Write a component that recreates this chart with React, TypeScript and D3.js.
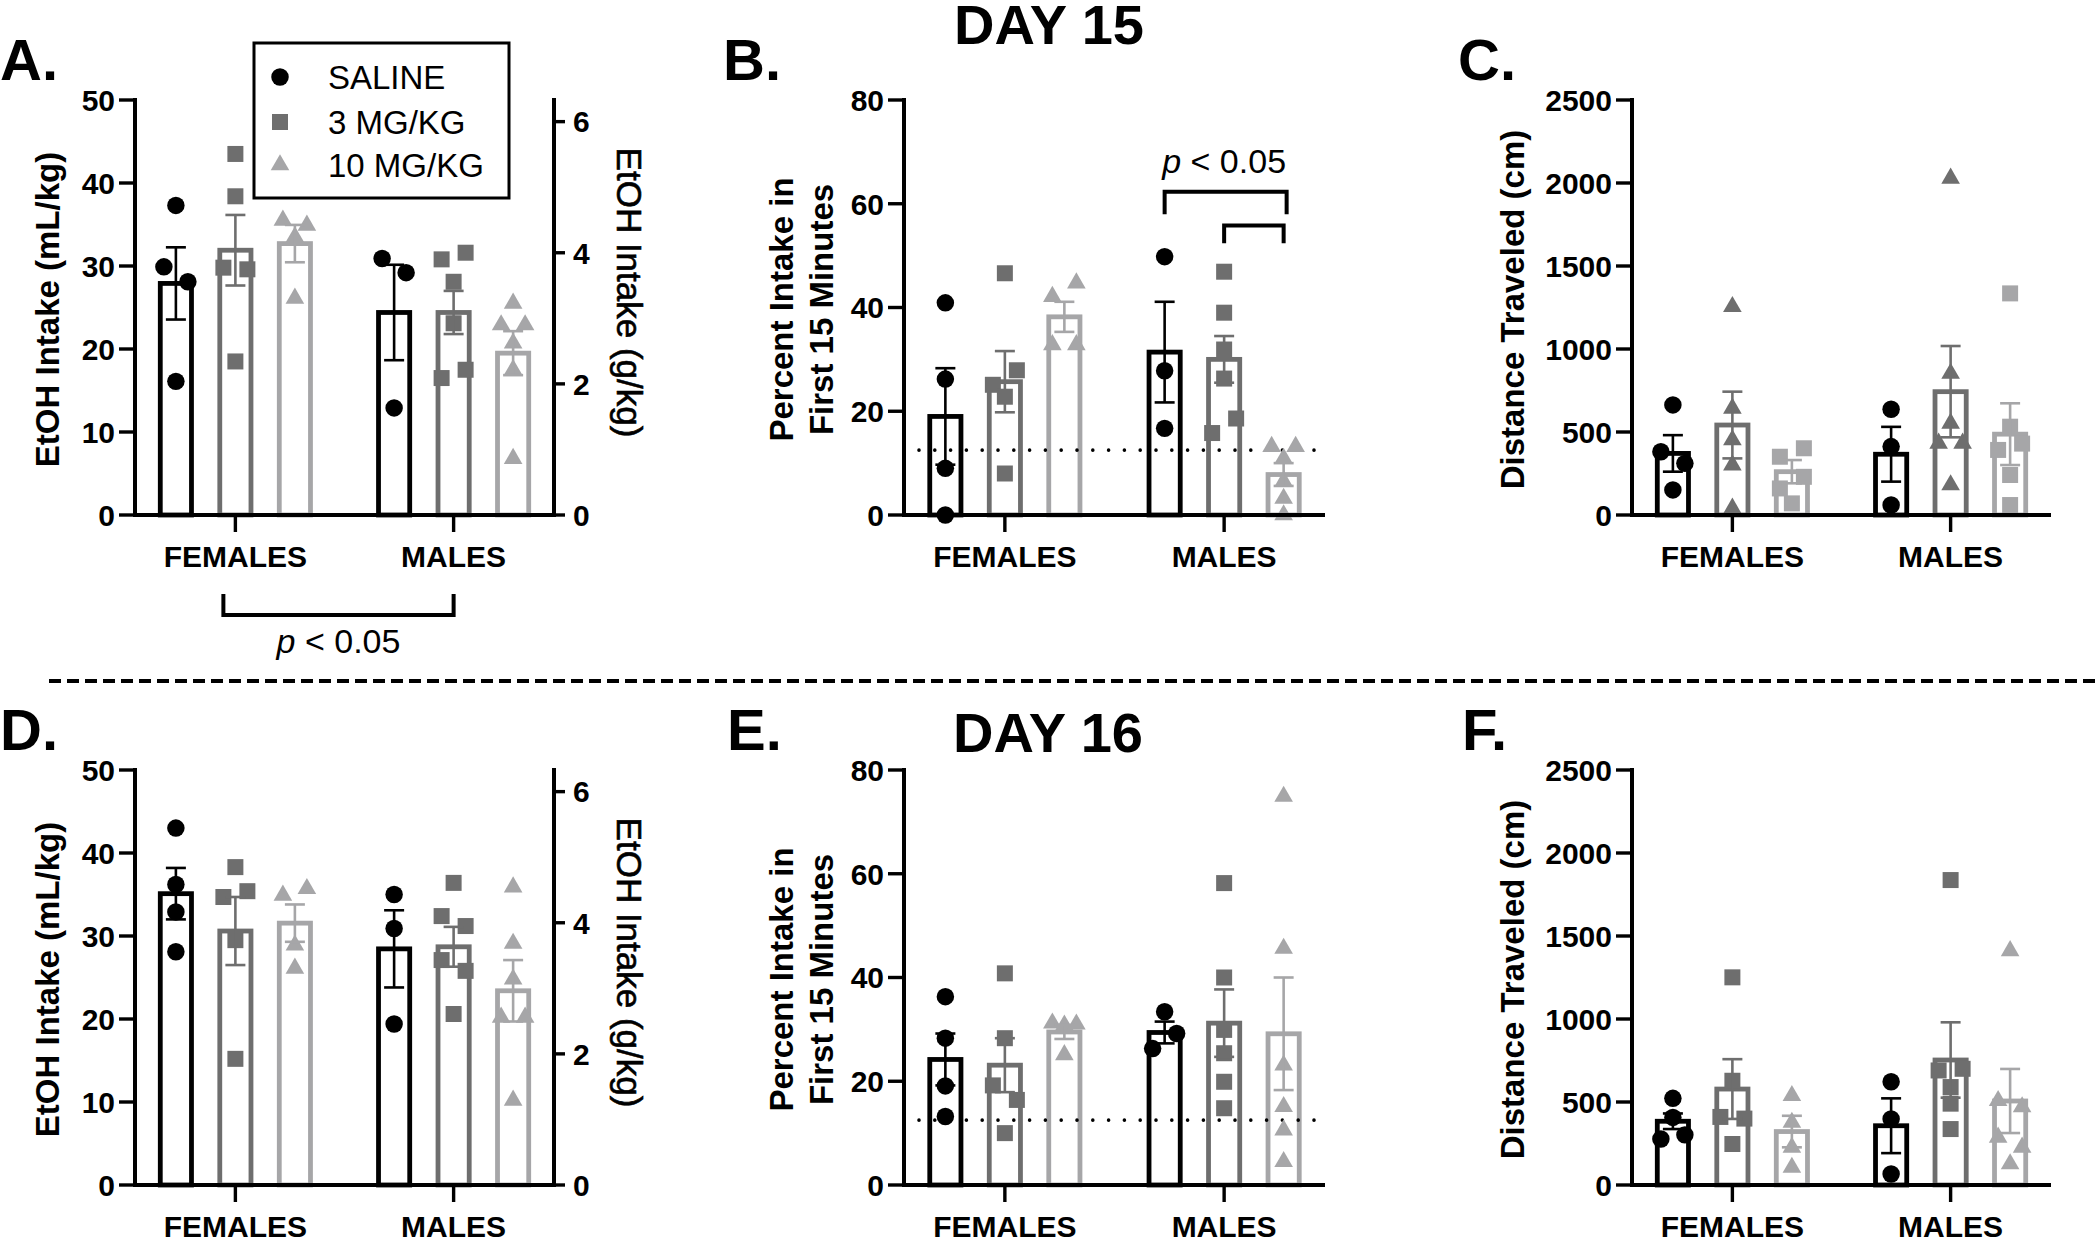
import React from 'react';
import * as d3 from 'd3';

// ---------- categories ----------
const SEXES = ['FEMALES', 'MALES'];
const TREATMENTS = ['SALINE', '3 MG/KG', '10 MG/KG'];
const TREATMENT_COLORS = ['#000000', '#6e6e6e', '#a6a6a8'];

// ---------- Panel A : Day 15 EtOH intake (mL/kg) ----------
const A_MEANS = [[27.9, 31.9, 32.7], [24.4, 24.4, 19.5]];
const A_SEMS = [[4.35, 4.25, 2.25], [5.75, 2.6, 2.65]];
const A_POINTS = [
  [[37.3, 29.9, 28.1, 16.1], [43.5, 38.4, 29.8, 29.6, 18.5], [35.5, 34.9, 33.5, 26.1]],
  [[30.9, 29.2, 12.9], [30.8, 31.6, 28.1, 23.1, 16.5, 17.5], [25.5, 22.9, 22.9, 20.7, 17.5, 6.8]],
];

// ---------- Panel B : Day 15 percent intake in first 15 min ----------
const B_MEANS = [[19.0, 25.7, 38.2], [31.4, 30.0, 7.8]];
const B_SEMS = [[9.3, 5.9, 2.9], [9.7, 4.5, 2.2]];
const B_POINTS = [
  [[40.9, 26.2, 9.0, 0], [46.6, 25.1, 27.9, 22.8, 8.0], [42.1, 44.7, 32.8, 32.8]],
  [[49.8, 27.8, 16.7], [46.9, 39.0, 31.9, 26.3, 15.8, 18.6], [13.2, 10.9, 13.2, 6.5, 3.2, 0]],
];

// ---------- Panel C : Day 15 distance traveled (cm) ----------
const C_MEANS = [[371, 542, 261], [366, 743, 487]];
const C_SEMS = [[110, 201, 70], [165, 275, 186]];
const C_POINTS = [
  [[663, 381, 311, 151], [1255, 643, 452, 301, 40], [351, 402, 160, 230, 70]],
  [[637, 412, 60], [2028, 853, 552, 432, 432, 181], [1335, 532, 392, 430, 241, 60]],
];

// ---------- Panel D : Day 16 EtOH intake (mL/kg) ----------
const D_MEANS = [[35.1, 30.6, 31.55], [28.45, 28.7, 23.4]];
const D_SEMS = [[3.1, 4.1, 2.25], [4.65, 2.4, 3.7]];
const D_POINTS = [
  [[43.0, 36.2, 32.9, 28.1], [38.3, 34.7, 35.4, 29.5, 15.2], [34.9, 35.7, 28.9, 26.1]],
  [[35.0, 30.9, 19.4], [36.4, 32.4, 31.2, 27.1, 25.8, 20.6], [35.9, 29.1, 24.8, 20.2, 20.2, 10.2]],
];

// ---------- Panel E : Day 16 percent intake in first 15 min ----------
const E_MEANS = [[24.2, 23.1, 29.5], [29.4, 31.2, 29.15]];
const E_SEMS = [[5.0, 5.2, 1.35], [2.1, 6.5, 10.85]];
const E_POINTS = [
  [[36.3, 28.3, 19.1, 13.2], [40.8, 28.3, 19.2, 16.4, 10.0], [31.2, 30.8, 31.0, 25.1]],
  [[33.4, 26.3, 29.2], [58.2, 40.0, 29.9, 25.4, 19.9, 14.8], [74.9, 45.6, 23.1, 15.1, 10.6, 4.5]],
];

// ---------- Panel F : Day 16 distance traveled (cm) ----------
const F_MEANS = [[384, 578, 322], [357, 753, 506]];
const F_SEMS = [[47, 180, 95], [165, 227, 193]];
const F_POINTS = [
  [[522, 407, 277, 302], [1251, 628, 410, 400, 247], [538, 377, 226, 106]],
  [[622, 398, 66], [1837, 690, 700, 590, 490, 337], [1411, 508, 470, 287, 227, 127]],
];

// ---------- axis ticks ----------
const INTAKE_TICKS = [0, 10, 20, 30, 40, 50];
const GKG_TICKS = [0, 2, 4, 6];
const GKG_MAX = 6.33; // g/kg equivalent of 50 mL/kg
const PERCENT_TICKS = [0, 20, 40, 60, 80];
const DIST_TICKS = [0, 500, 1000, 1500, 2000, 2500];
const CHANCE_LINE = 12.5;

const FONT = "'Liberation Sans', Arial, Helvetica, sans-serif";

type Shape = 'circle' | 'square' | 'triangle';
const SYMBOLS: Record<Shape, string> = {
  circle: d3.symbol(d3.symbolCircle, 240)() as string,
  square: d3.symbol(d3.symbolSquare, 256)() as string,
  triangle: d3.symbol(d3.symbolTriangle, 150)() as string,
};

function swarm(vals: number[], y: (v: number) => number, thr = 15.5, width = 24): number[] {
  const idx = vals.map((_, i) => i).sort((a, b) => vals[b] - vals[a] || a - b);
  const offs = new Array(vals.length).fill(0);
  let cluster: number[] = [];
  let anchorY = 0;
  const flush = () => {
    const c = [...cluster].sort((a, b) => a - b);
    const k = c.length;
    c.forEach((id, j) => {
      offs[id] = k === 1 ? 0 : -width / 2 + (width * j) / (k - 1);
    });
  };
  idx.forEach((i) => {
    const yi = y(vals[i]);
    if (cluster.length && Math.abs(yi - anchorY) < thr) cluster.push(i);
    else {
      if (cluster.length) flush();
      cluster = [i];
      anchorY = yi;
    }
  });
  if (cluster.length) flush();
  return offs;
}

interface PanelCfg {
  letter: string;
  letterX: number;
  means: number[][];
  sems: number[][];
  points: number[][][];
  ticks: number[];
  shapes: Shape[];
  x0: number;
  x1: number;
  yTop: number;
  yBot: number;
  titles: string[];
  titleX: number[];
  rightAxis?: boolean;
  chance?: boolean;
  sexBracket?: boolean;
  dosePBrackets?: boolean;
}

const PANELS: PanelCfg[] = [
  { letter: 'A.', letterX: 0, means: A_MEANS, sems: A_SEMS, points: A_POINTS, ticks: INTAKE_TICKS,
    shapes: ['circle', 'square', 'triangle'], x0: 135, x1: 554, yTop: 100, yBot: 515,
    titles: ['EtOH Intake (mL/kg)'], titleX: [59], rightAxis: true, sexBracket: true },
  { letter: 'B.', letterX: 723, means: B_MEANS, sems: B_SEMS, points: B_POINTS, ticks: PERCENT_TICKS,
    shapes: ['circle', 'square', 'triangle'], x0: 904, x1: 1325, yTop: 100, yBot: 515,
    titles: ['Percent Intake in', 'First 15 Minutes'], titleX: [793, 833], chance: true, dosePBrackets: true },
  { letter: 'C.', letterX: 1458, means: C_MEANS, sems: C_SEMS, points: C_POINTS, ticks: DIST_TICKS,
    shapes: ['circle', 'triangle', 'square'], x0: 1632, x1: 2051, yTop: 100, yBot: 515,
    titles: ['Distance Traveled (cm)'], titleX: [1524] },
  { letter: 'D.', letterX: 0, means: D_MEANS, sems: D_SEMS, points: D_POINTS, ticks: INTAKE_TICKS,
    shapes: ['circle', 'square', 'triangle'], x0: 135, x1: 554, yTop: 770, yBot: 1185,
    titles: ['EtOH Intake (mL/kg)'], titleX: [59], rightAxis: true },
  { letter: 'E.', letterX: 727, means: E_MEANS, sems: E_SEMS, points: E_POINTS, ticks: PERCENT_TICKS,
    shapes: ['circle', 'square', 'triangle'], x0: 904, x1: 1325, yTop: 770, yBot: 1185,
    titles: ['Percent Intake in', 'First 15 Minutes'], titleX: [793, 833], chance: true },
  { letter: 'F.', letterX: 1462, means: F_MEANS, sems: F_SEMS, points: F_POINTS, ticks: DIST_TICKS,
    shapes: ['circle', 'square', 'triangle'], x0: 1632, x1: 2051, yTop: 770, yBot: 1185,
    titles: ['Distance Traveled (cm)'], titleX: [1524] },
];

const BAR_SW = 4.8;
const AXIS_SW = 4;

function PValue({ x, y }: { x: number; y: number }) {
  return (
    <text x={x} y={y} textAnchor="middle" fontFamily={FONT} fontSize={34} fill="#000">
      <tspan fontStyle="italic">p</tspan>
      <tspan> &lt; 0.05</tspan>
    </text>
  );
}

function Panel({ cfg }: { cfg: PanelCfg }) {
  const yMax = cfg.ticks[cfg.ticks.length - 1];
  const y = d3.scaleLinear().domain([0, yMax]).range([cfg.yBot, cfg.yTop]);
  const xg = d3.scalePoint<string>().domain(SEXES).range([cfg.x0, cfg.x1]).padding(0.46);
  const xt = d3.scaleBand<string>().domain(TREATMENTS).range([-89.25, 89.25]).paddingInner(0.395).paddingOuter(0.1975);
  const bw = xt.bandwidth();
  const cx = (s: number, t: number) => (xg(SEXES[s]) as number) + (xt(TREATMENTS[t]) as number) + bw / 2;
  const midY = (cfg.yTop + cfg.yBot) / 2;

  const bars: JSX.Element[] = [];
  const dots: JSX.Element[] = [];
  const errs: JSX.Element[] = [];
  SEXES.forEach((_, s) => {
    TREATMENTS.forEach((__, t) => {
      const c = cx(s, t);
      const m = cfg.means[s][t];
      const e = cfg.sems[s][t];
      const col = TREATMENT_COLORS[t];
      bars.push(
        <rect key={`b${s}${t}`} x={c - bw / 2 + BAR_SW / 2} width={bw - BAR_SW} y={y(m)} height={y(0) - y(m)}
          fill="#fff" stroke={col} strokeWidth={BAR_SW} />
      );
      const vals = cfg.points[s][t];
      const offs = swarm(vals, y);
      vals.forEach((v, i) => {
        dots.push(
          <path key={`p${s}${t}${i}`} d={SYMBOLS[cfg.shapes[t]]} transform={`translate(${c + offs[i]},${y(v)})`} fill={col} />
        );
      });
      const yHi = y(m + e);
      const yLo = y(Math.max(0, m - e));
      errs.push(
        <g key={`e${s}${t}`} stroke={col} strokeWidth={2.6} fill="none">
          <line x1={c} x2={c} y1={yHi} y2={yLo} />
          <line x1={c - 10} x2={c + 10} y1={yHi} y2={yHi} />
          <line x1={c - 10} x2={c + 10} y1={yLo} y2={yLo} />
        </g>
      );
    });
  });

  const yR = d3.scaleLinear().domain([0, GKG_MAX]).range([cfg.yBot, cfg.yTop]);

  return (
    <g>
      <text x={cfg.letterX} y={cfg.yTop - 20} fontFamily={FONT} fontWeight="bold" fontSize={58} fill="#000">{cfg.letter}</text>
      {cfg.titles.map((tt, i) => (
        <text key={tt} transform={`translate(${cfg.titleX[i]},${midY + 2}) rotate(-90)`} textAnchor="middle"
          fontFamily={FONT} fontWeight="bold" fontSize={33} fill="#000">{tt}</text>
      ))}
      {bars}
      {cfg.chance && (
        <line x1={cfg.x0 + 15} x2={cfg.x1} y1={y(CHANCE_LINE)} y2={y(CHANCE_LINE)} stroke="#000" strokeWidth={3.6}
          strokeLinecap="round" strokeDasharray="0 15.8" />
      )}
      {dots}
      {errs}
      <line x1={cfg.x0} x2={cfg.x0} y1={cfg.yTop - 2} y2={cfg.yBot + 2} stroke="#000" strokeWidth={AXIS_SW} />
      {cfg.ticks.map((tk) => (
        <g key={`t${tk}`}>
          <line x1={cfg.x0 - 16} x2={cfg.x0} y1={y(tk)} y2={y(tk)} stroke="#000" strokeWidth={3.4} />
          <text x={cfg.x0 - 20} y={y(tk)} dy="0.36em" textAnchor="end" fontFamily={FONT} fontWeight="bold" fontSize={30} fill="#000">{tk}</text>
        </g>
      ))}
      <line x1={cfg.x0 - 2} x2={cfg.x1 + (cfg.rightAxis ? 2 : 0)} y1={cfg.yBot} y2={cfg.yBot} stroke="#000" strokeWidth={AXIS_SW} />
      {SEXES.map((sx) => (
        <g key={sx}>
          <line x1={xg(sx) as number} x2={xg(sx) as number} y1={cfg.yBot} y2={cfg.yBot + 17} stroke="#000" strokeWidth={3.4} />
          <text x={xg(sx) as number} y={cfg.yBot + 52} textAnchor="middle" fontFamily={FONT} fontWeight="bold" fontSize={30} fill="#000">{sx}</text>
        </g>
      ))}
      {cfg.rightAxis && (
        <g>
          <line x1={cfg.x1} x2={cfg.x1} y1={cfg.yTop - 2} y2={cfg.yBot + 2} stroke="#000" strokeWidth={AXIS_SW} />
          {GKG_TICKS.map((tk) => (
            <g key={`r${tk}`}>
              <line x1={cfg.x1} x2={cfg.x1 + 11} y1={yR(tk)} y2={yR(tk)} stroke="#000" strokeWidth={3.4} />
              <text x={cfg.x1 + 19} y={yR(tk)} dy="0.36em" textAnchor="start" fontFamily={FONT} fontWeight="bold" fontSize={30} fill="#000">{tk}</text>
            </g>
          ))}
          <text transform={`translate(${cfg.x1 + 63},${midY - 15}) rotate(90)`} textAnchor="middle" fontFamily={FONT}
            fontSize={35} fill="#000" stroke="#000" strokeWidth={0.6}>EtOH Intake (g/kg)</text>
        </g>
      )}
      {cfg.sexBracket && (
        <g>
          <path d={`M${(xg('FEMALES') as number) - 12},${cfg.yBot + 79} V${cfg.yBot + 100} H${xg('MALES') as number} V${cfg.yBot + 79}`}
            fill="none" stroke="#000" strokeWidth={4} />
          <PValue x={((xg('FEMALES') as number) - 12 + (xg('MALES') as number)) / 2} y={cfg.yBot + 138} />
        </g>
      )}
      {cfg.dosePBrackets && (
        <g>
          <path d={`M${cx(1, 0)},${y(58.0)} V${y(62.3)} H${cx(1, 2) + 3} V${y(58.0)}`} fill="none" stroke="#000" strokeWidth={4} />
          <path d={`M${cx(1, 1)},${y(52.4)} V${y(55.8)} H${cx(1, 2)} V${y(52.4)}`} fill="none" stroke="#000" strokeWidth={4} />
          <PValue x={cx(1, 1)} y={y(65.9)} />
        </g>
      )}
    </g>
  );
}

function Legend() {
  const rows = [77, 122, 165];
  const shapes: Shape[] = ['circle', 'square', 'triangle'];
  return (
    <g>
      <rect x={254} y={43} width={255} height={155} fill="#fff" stroke="#000" strokeWidth={3} />
      {TREATMENTS.map((t, i) => (
        <g key={t}>
          <path d={SYMBOLS[shapes[i]]} transform={`translate(280,${rows[i]})`} fill={TREATMENT_COLORS[i]} />
          <text x={328} y={rows[i]} dy="0.36em" fontFamily={FONT} fontSize={33} fill="#000">{t}</text>
        </g>
      ))}
    </g>
  );
}

export default function App() {
  return (
    <svg width={2100} height={1237} viewBox="0 0 2100 1237" style={{ position: 'absolute', left: 0, top: 0, background: '#fff' }}>
      <rect x={0} y={0} width={2100} height={1237} fill="#fff" />
      <text x={1049} y={44} textAnchor="middle" fontFamily={FONT} fontWeight="bold" fontSize={56} fill="#000">DAY 15</text>
      <text x={1048} y={752} textAnchor="middle" fontFamily={FONT} fontWeight="bold" fontSize={56} fill="#000">DAY 16</text>
      <line x1={49} x2={2100} y1={681} y2={681} stroke="#000" strokeWidth={4} strokeDasharray="12 6" />
      {PANELS.map((p) => (
        <Panel key={p.letter} cfg={p} />
      ))}
      <Legend />
    </svg>
  );
}
